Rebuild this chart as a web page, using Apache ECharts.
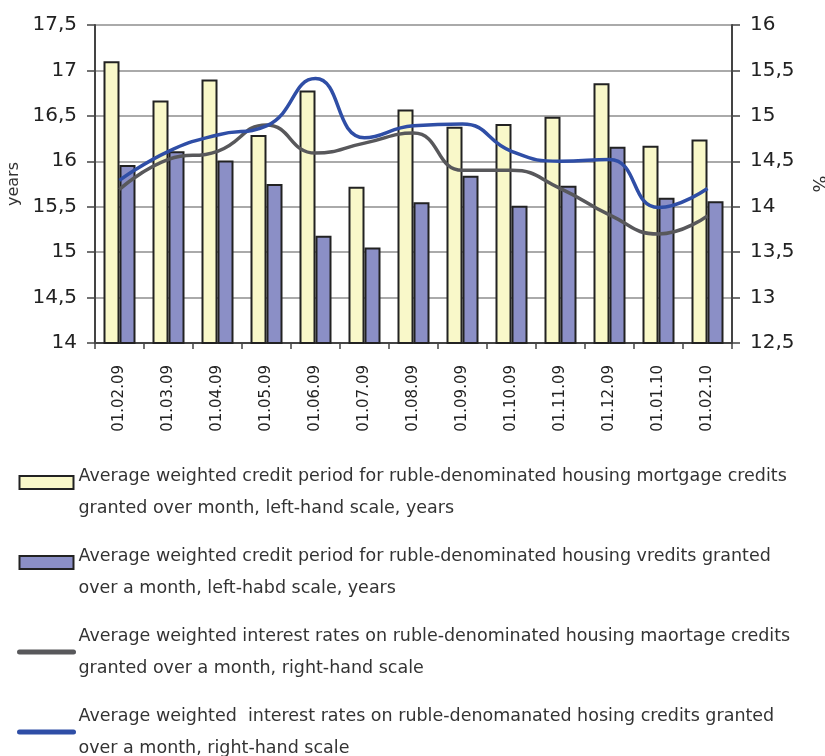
<!DOCTYPE html>
<html>
<head>
<meta charset="utf-8">
<script src="https://cdn.jsdelivr.net/npm/echarts@6/dist/echarts.min.js"></script>
<style>
html,body{margin:0;padding:0;background:#fff;}
#chart{width:825px;height:756px;}
</style>
</head>
<body>
<div id="chart"></div>
<script>
const categories = ['01.02.09','01.03.09','01.04.09','01.05.09','01.06.09','01.07.09','01.08.09','01.09.09','01.10.09','01.11.09','01.12.09','01.01.10','01.02.10'];
const mortgagePeriod = [17.10,16.67,16.90,16.29,16.78,15.72,16.57,16.38,16.41,16.49,16.86,16.17,16.24];
const housingPeriod = [15.96,16.11,16.01,15.75,15.18,15.05,15.55,15.84,15.51,15.73,16.16,15.60,15.56];
const mortgageRate = [14.19,14.52,14.61,14.90,14.59,14.70,14.81,14.40,14.40,14.20,13.91,13.70,13.90];
const housingRate = [14.29,14.61,14.79,14.89,15.41,14.76,14.89,14.91,14.61,14.50,14.52,13.99,14.20];
const seriesNames = [
  'Average weighted credit period for ruble-denominated housing mortgage credits granted over month, left-hand scale, years',
  'Average weighted credit period for ruble-denominated housing vredits granted over a month, left-habd scale, years',
  'Average weighted interest rates on ruble-denominated housing maortage credits granted over a month, right-hand scale',
  'Average weighted  interest rates on ruble-denomanated hosing credits granted over a month, right-hand scale'
];
const legendLabels = [
  'Average weighted credit period for ruble-denominated housing mortgage credits\ngranted over month, left-hand scale, years',
  'Average weighted credit period for ruble-denominated housing vredits granted\nover a month, left-habd scale, years',
  'Average weighted interest rates on ruble-denominated housing maortage credits\ngranted over a month, right-hand scale',
  'Average weighted  interest rates on ruble-denomanated hosing credits granted\nover a month, right-hand scale'
];
const leftTicks = {min:14, max:17.5, interval:0.5};
const rightTicks = {min:12.5, max:16, interval:0.5};

const FONT = 'DejaVu Sans';
const fmt = v => String(v).replace('.', ',');
const barIcon = 'path://M0,0 L54,0 L54,13 L0,13 Z M0,32';

const chart = echarts.init(document.getElementById('chart'), null, {renderer:'canvas'});
chart.setOption({
  animation:false,
  backgroundColor:'#fff',
  textStyle:{fontFamily:FONT},
  grid:{left:95, right:93, top:25, bottom:413, containLabel:false, outerBoundsMode:'none'},
  legend:{
    orient:'vertical', left:17, top:460, height:320, padding:0,
    itemWidth:54, itemHeight:32, itemGap:16,
    textStyle:{fontFamily:FONT, fontSize:17.5, lineHeight:32, color:'#333'},
    formatter: name => legendLabels[seriesNames.indexOf(name)],
    data:[
      {name:seriesNames[0], icon:barIcon, itemStyle:{borderColor:'#222', borderWidth:2}},
      {name:seriesNames[1], icon:barIcon, itemStyle:{borderColor:'#222', borderWidth:2}},
      {name:seriesNames[2], itemStyle:{opacity:0}, lineStyle:{width:5, cap:'round'}},
      {name:seriesNames[3], itemStyle:{opacity:0}, lineStyle:{width:5, cap:'round'}}
    ]
  },
  xAxis:{
    type:'category', data:categories,
    axisLine:{lineStyle:{color:'#444', width:2}},
    axisTick:{show:true, length:6, lineStyle:{color:'#444', width:1.5}},
    axisLabel:{rotate:90, fontSize:15, color:'#222', margin:22, fontFamily:FONT}
  },
  yAxis:[
    {
      type:'value', position:'left', min:leftTicks.min, max:leftTicks.max, interval:leftTicks.interval,
      name:'years', nameLocation:'middle', nameGap:70, nameRotate:90,
      nameTextStyle:{fontSize:16, color:'#333', fontFamily:FONT},
      axisLine:{show:true, lineStyle:{color:'#444', width:2}},
      axisTick:{show:true, length:8, lineStyle:{color:'#444', width:1.5}},
      axisLabel:{fontSize:20, color:'#222', margin:18, formatter:fmt, fontFamily:FONT},
      splitLine:{show:true, lineStyle:{color:'#aaa', width:2}}
    },
    {
      type:'value', position:'right', min:rightTicks.min, max:rightTicks.max, interval:rightTicks.interval,
      name:'%', nameLocation:'middle', nameGap:77, nameRotate:-90,
      nameTextStyle:{fontSize:18, color:'#333', fontFamily:FONT},
      axisLine:{show:true, lineStyle:{color:'#444', width:2}},
      axisTick:{show:true, length:8, lineStyle:{color:'#444', width:1.5}},
      axisLabel:{fontSize:20, color:'#222', margin:18, formatter:fmt, fontFamily:FONT},
      splitLine:{show:false}
    }
  ],
  series:[
    {name:seriesNames[0], type:'bar', yAxisIndex:0, data:mortgagePeriod, barWidth:16, barGap:'0%',
     itemStyle:{color:'#F9F8C9', borderColor:'#222', borderWidth:2}},
    {name:seriesNames[1], type:'bar', yAxisIndex:0, data:housingPeriod, barWidth:16, barGap:'0%',
     itemStyle:{color:'#8B8FC6', borderColor:'#222', borderWidth:2}},
    {name:seriesNames[2], type:'line', yAxisIndex:1, data:mortgageRate, smooth:true, symbol:'none',
     lineStyle:{color:'#58585b', width:3.5}, itemStyle:{color:'#58585b'}},
    {name:seriesNames[3], type:'line', yAxisIndex:1, data:housingRate, smooth:true, symbol:'none',
     lineStyle:{color:'#2f4ea6', width:3.5}, itemStyle:{color:'#2f4ea6'}}
  ]
});
</script>
</body>
</html>
